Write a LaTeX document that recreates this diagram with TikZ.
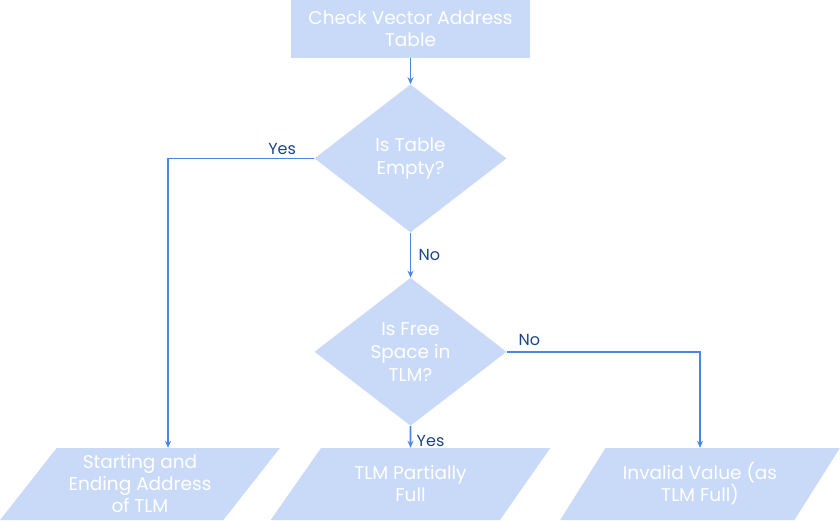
\documentclass[tikz,border=0pt]{standalone}
\usepackage{fontspec}
\setmainfont{Poppins}
\usetikzlibrary{shapes.geometric,arrows.meta,positioning}
\definecolor{flowfill}{HTML}{C9DAF8}
\definecolor{flowline}{HTML}{4A86E8}
\definecolor{flowlabel}{HTML}{1C4587}

\begin{document}
\begin{tikzpicture}[x=1pt, y=1pt,
    procbox/.style={rectangle, fill=flowfill, text=white,
        minimum width=239pt, minimum height=58pt, align=center,
        font=\fontsize{18.5}{22}\selectfont},
    decision/.style={diamond, fill=flowfill, text=white,
        minimum width=192pt, minimum height=148pt, inner sep=0pt,
        align=center, font=\fontsize{18.5}{23}\selectfont},
    outcome/.style={trapezium, trapezium left angle=52, trapezium right angle=128,
        trapezium stretches=true, fill=flowfill, text=white,
        minimum width=280pt, minimum height=72pt, align=center,
        font=\fontsize{18.5}{22}\selectfont},
    flow/.style={->, draw=flowline, line width=1.8pt},
    answer/.style={text=flowlabel, font=\fontsize{16}{18}\selectfont},
    >={Stealth[length=7pt,width=6pt]}
]
\useasboundingbox (0,0) rectangle (840,-520);
\node[procbox] (check) at (410.5,-29) {Check Vector Address\\Table};
\node[decision, below=26pt of check] (empty) {Is Table\\Empty?};
\node[decision, below=45pt of empty] (free) {Is Free\\Space in\\TLM?};
\node[outcome] (start) at (140,-484) {Starting and\\Ending Address\\of TLM};
\node[outcome] (partial) at (410.5,-484) {TLM Partially\\Full};
\node[outcome] (full) at (700,-484) {Invalid Value (as\\TLM Full)};

\draw[flow] (check) -- (empty);
\draw[flow] (empty.west) -| node[answer, pos=0.11, above] {Yes} ([xshift=28pt]start.north);
\draw[flow] (empty) -- node[answer, right=4pt] {No} (free);
\draw[flow] (free.east) -| node[answer, pos=0.02, above right, yshift=2pt] {No} (full.north);
\draw[flow] (free) -- node[answer, right=2pt, pos=0.7] {Yes} (partial);
\end{tikzpicture}
\end{document}
